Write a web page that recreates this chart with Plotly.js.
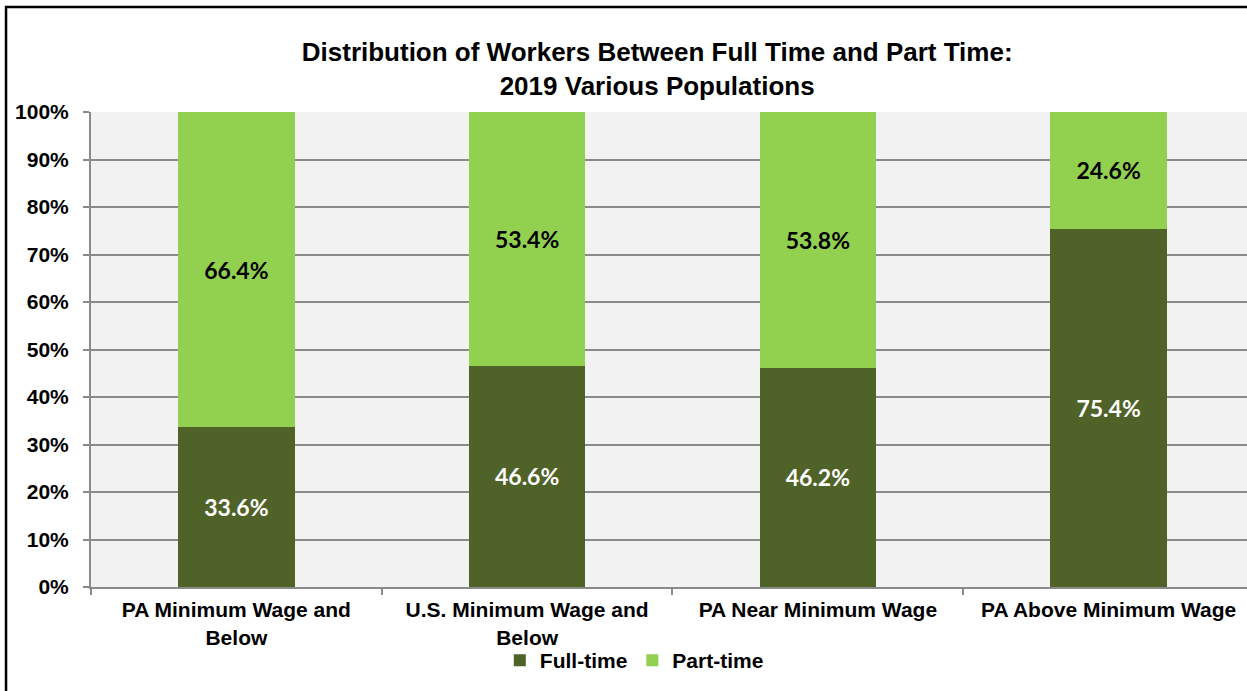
<!DOCTYPE html>
<html>
<head>
<meta charset="utf-8">
<script src="https://cdn.plot.ly/plotly-3.0.1.min.js"></script>
<style>
  html, body { margin: 0; padding: 0; background: #fff; }
  #chart { width: 1247px; height: 691px; }
</style>
</head>
<body>
<div id="chart"></div>
<script>
// Full time vs part time split, 2019, four worker populations
const categories = [
  "PA Minimum Wage and<br>Below",
  "U.S. Minimum Wage and<br>Below",
  "PA Near Minimum Wage",
  "PA Above Minimum Wage"
];
const fullTime = [0.336, 0.466, 0.462, 0.754];
const partTime = [0.664, 0.534, 0.538, 0.246];
const seriesNames = ["Full-time", "Part-time"];
const yTicks = [0, 0.1, 0.2, 0.3, 0.4, 0.5, 0.6, 0.7, 0.8, 0.9, 1.0];

const darkGreen = '#4f6228';
const lightGreen = '#92d050';
const gridGrey = '#8a8a8a';
const arialBold = 'Liberation Sans, Arial, sans-serif';
const labelFont = 'Lato, Carlito, Calibri, sans-serif';
const boldFont = (size) => ({ family: arialBold, size, color: '#000', weight: 'bold' });

const pct = (v) => `<b>${(v * 100).toFixed(1)}%</b>`;

const data = [
  {
    type: 'bar', name: seriesNames[0], x: categories, y: fullTime,
    marker: { color: darkGreen },
    text: fullTime.map(pct), textposition: 'inside', insidetextanchor: 'middle',
    textfont: { family: labelFont, size: 23, color: '#ffffff' },
    constraintext: 'none', hoverinfo: 'skip'
  },
  {
    type: 'bar', name: seriesNames[1], x: categories, y: partTime,
    marker: { color: lightGreen },
    text: partTime.map(pct), textposition: 'inside', insidetextanchor: 'middle',
    textfont: { family: labelFont, size: 23, color: '#000000' },
    constraintext: 'none', hoverinfo: 'skip'
  }
];

const layout = {
  width: 1247, height: 691,
  margin: { l: 91, r: 0, t: 112, b: 104, pad: 0 },
  paper_bgcolor: '#ffffff', plot_bgcolor: '#f2f2f2',
  barmode: 'stack', bargap: 0.6,
  font: { family: arialBold, color: '#000' },
  title: {
    text: '<b>Distribution of Workers Between Full Time and Part Time:<br>2019 Various Populations</b>',
    font: { family: arialBold, size: 26, color: '#000' },
    xref: 'container', x: 0.527, xanchor: 'center',
    yref: 'container', y: 0.912, yanchor: 'middle'
  },
  showlegend: true,
  legend: {
    orientation: 'h', traceorder: 'normal',
    x: 0.47, xanchor: 'center', y: -0.155, yanchor: 'middle',
    font: boldFont(21),
    bgcolor: 'rgba(0,0,0,0)'
  },
  xaxis: {
    type: 'category', range: [-0.5, 3.476], fixedrange: true,
    tickson: 'boundaries', ticks: 'outside', ticklen: 6, tickwidth: 2, tickcolor: gridGrey,
    ticklabelstandoff: 3,
    showline: true, linecolor: gridGrey, linewidth: 2,
    showgrid: false,
    tickfont: boldFont(21),
    automargin: false
  },
  yaxis: {
    range: [0, 1], tickvals: yTicks, tickformat: '.0%', fixedrange: true,
    ticks: 'outside', ticklen: 6, tickwidth: 2, tickcolor: gridGrey,
    ticklabelstandoff: 10,
    showline: true, linecolor: gridGrey, linewidth: 2,
    gridcolor: gridGrey, gridwidth: 2, zeroline: false,
    tickfont: boldFont(21),
    automargin: false
  },
  shapes: [{
    type: 'rect', xref: 'paper', yref: 'paper',
    x0: -0.0735, x1: 1.2, y0: -0.5, y1: 1.221,
    line: { color: '#000', width: 2.5 }, fillcolor: 'rgba(0,0,0,0)', layer: 'above'
  }]
};

Plotly.newPlot('chart', data, layout, { displayModeBar: false, staticPlot: true });
</script>
</body>
</html>
